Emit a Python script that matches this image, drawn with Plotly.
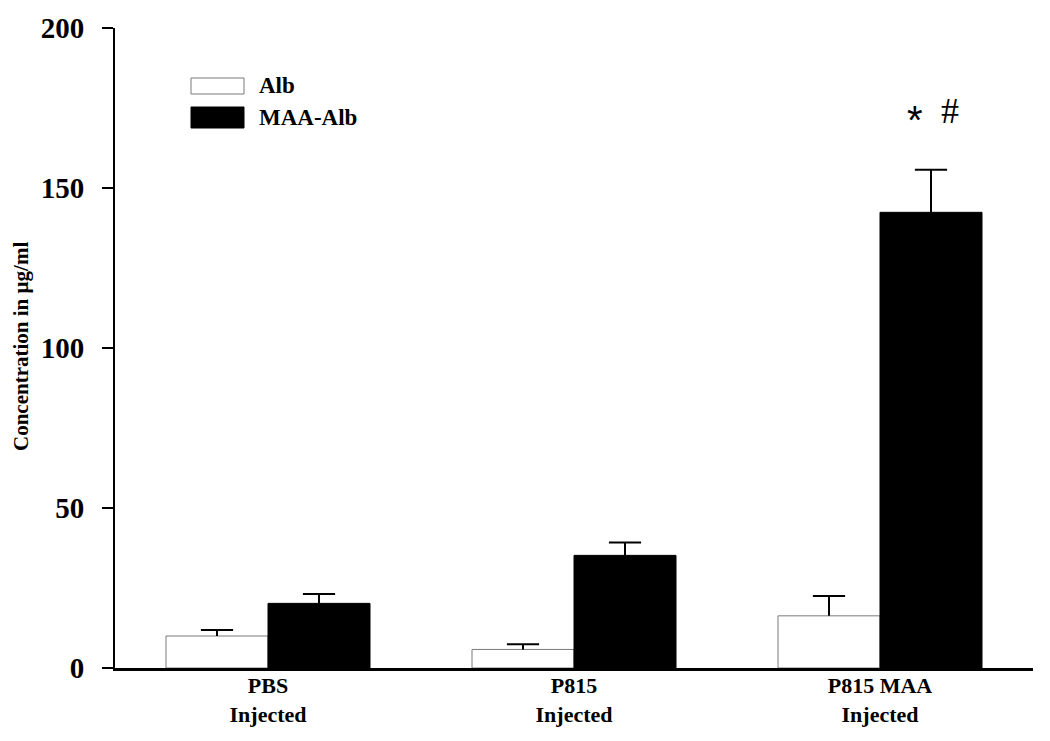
import plotly.graph_objects as go

categories = ["PBS<br>Injected", "P815<br>Injected", "P815 MAA<br>Injected"]
series_names = ["Alb", "MAA-Alb"]
alb_values = [10.0, 5.8, 16.3]
alb_errors = [1.9, 1.6, 6.2]
maa_values = [20.2, 35.2, 142.4]
maa_errors = [2.9, 4.0, 13.3]
y_ticks = [0, 50, 100, 150, 200]
y_title = "Concentration in µg/ml"
sig_marks = ["*", "#"]

x_idx = list(range(len(categories)))
FONT = "Liberation Serif, Times New Roman, serif"

OFF = 8  # page body margin
W, H = 1042, 733
L, T = 107, 20
PW, PH = 918, 640
R, B = W - L - PW, H - T - PH

BAR_W = 1 / 3  # each bar is a third of a category slot

def px(x):
    return (x - OFF - L) / PW

def py(y):
    return (T + PH - (y - OFF)) / PH

fig = go.Figure()
series = [
    (alb_values, alb_errors, -BAR_W, "white", "#7a7a7a"),
    (maa_values, maa_errors, 0.0, "black", "black"),
]
for (vals, errs, off, fc, lc), name in zip(series, series_names):
    fig.add_trace(go.Bar(
        x=x_idx, y=vals, name=name, width=BAR_W, offset=off,
        marker=dict(color=fc, line=dict(color=lc, width=1)),
        error_y=dict(type="data", array=errs, arrayminus=[0] * len(vals), symmetric=False,
                     color="black", thickness=2, width=0),
        showlegend=False,
    ))
    # error-bar caps (top only)
    fig.add_trace(go.Scatter(
        x=[i + off + BAR_W / 2 for i in x_idx],
        y=[v + e for v, e in zip(vals, errs)],
        mode="markers", showlegend=False, hoverinfo="skip",
        marker=dict(symbol="line-ew", size=23, color="black", line=dict(color="black", width=2)),
    ))

# manual legend
legend_boxes = [(78, 94, "white", "#7a7a7a"), (107, 128, "black", "black")]
for (y0, y1, fc, lc), name in zip(legend_boxes, series_names):
    fig.add_shape(type="rect", xref="paper", yref="paper",
                  x0=px(191), x1=px(244), y0=py(y1), y1=py(y0),
                  fillcolor=fc, line=dict(color=lc, width=1))
    fig.add_annotation(xref="paper", yref="paper", x=px(257), y=py((y0 + y1) / 2),
                       text=f"<b>{name}</b>", showarrow=False, xanchor="left", yanchor="middle",
                       font=dict(family=FONT, size=23, color="black"))

# significance marks
fig.add_annotation(x=2, y=171.4, xref="x", yref="y", xshift=35, text=sig_marks[0],
                   showarrow=False, font=dict(family="Liberation Sans, Arial", size=40, color="black"),
                   xanchor="center", yanchor="middle")
fig.add_annotation(x=2, y=174, xref="x", yref="y", xshift=70, text=sig_marks[1],
                   showarrow=False, font=dict(family=FONT, size=36, color="black"),
                   xanchor="center", yanchor="middle")

# y title
fig.add_annotation(xref="paper", yref="paper", x=px(21), y=py(347), text=f"<b>{y_title}</b>",
                   textangle=-90, showarrow=False, xanchor="center", yanchor="middle",
                   font=dict(family=FONT, size=21, color="black"))

fig.update_layout(
    width=W, height=H,
    margin=dict(l=L, r=R, t=T, b=B, autoexpand=False),
    paper_bgcolor="white", plot_bgcolor="white",
    xaxis=dict(
        range=[-0.5, 2.5], tickmode="array", tickvals=x_idx,
        ticktext=[f"<b>{c}</b>" for c in categories],
        showline=True, linecolor="black", linewidth=3,
        ticks="", showgrid=False, zeroline=False, automargin=False,
        ticklabelstandoff=-4,
        tickfont=dict(family=FONT, size=22, color="black"),
    ),
    yaxis=dict(
        range=[0, 200], tickmode="array", tickvals=y_ticks,
        ticktext=[f"<b>{v}</b>" for v in y_ticks],
        showline=True, linecolor="black", linewidth=2,
        ticks="outside", ticklen=11, tickwidth=2, tickcolor="black",
        showgrid=False, zeroline=False, ticklabelstandoff=12, automargin=False,
        tickfont=dict(family=FONT, size=29, color="black"),
    ),
)

fig.write_html("out.html")
